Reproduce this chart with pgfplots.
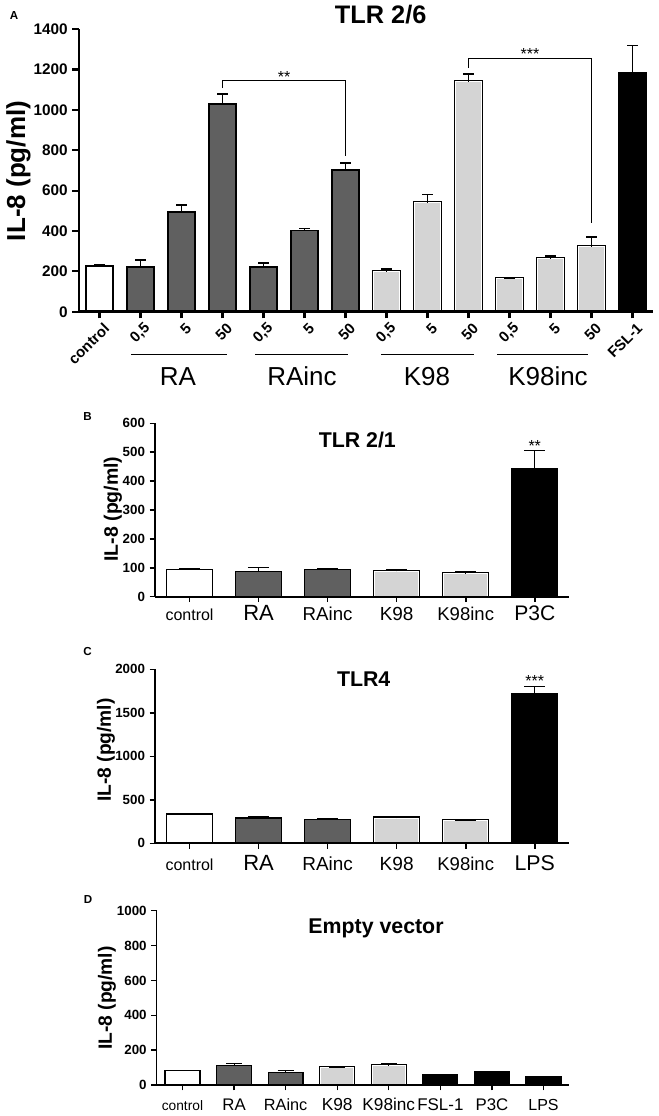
\documentclass[border=0pt]{standalone}
\usepackage{pgfplots}
\pgfplotsset{compat=1.18}
\usepackage{fontspec}
\setmainfont{Liberation Sans}
\definecolor{dk}{RGB}{96,96,96}
\definecolor{lt}{RGB}{212,212,212}
\newcommand{\fs}[1]{\fontsize{#1}{#1}\selectfont}
\pgfplotsset{
  panel/.style={
    scale only axis, anchor=south west, ybar, enlargelimits=false,
    axis on top,
    axis lines*=left, axis line style={-},
    tick align=outside, tick style={black},
    /pgf/number format/assume math mode=true,
    /pgf/number format/set thousands separator={},
  }
}
\begin{document}
\begin{tikzpicture}
\path[use as bounding box] (0,0) rectangle (494.25pt,-837pt);

% ---------------- Panel A ----------------
\begin{axis}[panel,
  at={(59.25pt,-233.8pt)}, width=430.5pt, height=212pt,
  axis line style={line width=2pt}, major tick length=5pt, tick style={line width=1.6pt},
  xmin=-0.5, xmax=13.5, ymin=0, ymax=1400,
  ytick={0,200,...,1400}, xtick={0,...,13},
  xticklabels={control,{0,5},5,50,{0,5},5,50,{0,5},5,50,{0,5},5,50,FSL-1},
  xticklabel style={rotate=45, anchor=east, inner sep=0pt, yshift=-7.75pt, font=\bfseries\fs{11.2}},
  yticklabel style={font=\bfseries\fs{11.5}},
  bar width=0.67,
  every axis plot/.append style={draw=black, line width=1.3pt,
     error bars/y dir=plus, error bars/y explicit,
     error bars/error bar style={line width=1.3pt, black},
     error bars/error mark options={rotate=90, mark size=4.1pt, line width=1.3pt, black}},
]
\addplot[fill=white, bar shift=0pt] coordinates {(0,228) +- (0,3)};
\addplot[fill=dk, bar shift=0pt] coordinates {(1,223) +- (0,33) (2,494) +- (0,35) (3,1028) +- (0,52)
  (4,222) +- (0,18) (5,402) +- (0,10) (6,703) +- (0,35)};
\addplot[fill=black, draw=black, line width=3pt, bar width=0.615, bar shift=0pt, error bars/y dir=none]
  coordinates {(7,197) (8,541) (9,1138) (10,164) (11,263) (12,322)};
\addplot[fill=lt, draw=white, line width=0.8pt, bar width=0.615, bar shift=0pt] coordinates {(7,197) +- (0,16) (8,541) +- (0,39) (9,1138) +- (0,41)
  (10,164) +- (0,1) (11,263) +- (0,12) (12,322) +- (0,47)};
\addplot[fill=black, bar shift=0pt] coordinates {(13,1185) +- (0,134)};
\draw[line width=0.8pt] (axis cs:3,1108) -- (axis cs:3,1144) -- (axis cs:6,1144) -- (axis cs:6,769);
\node[anchor=base, font=\fs{12}] at (axis cs:4.5,1134) {**};
\draw[line width=0.8pt] (axis cs:9,1207) -- (axis cs:9,1253) -- (axis cs:12,1253) -- (axis cs:12,438);
\node[anchor=base, font=\fs{12}] at (axis cs:10.5,1249) {***};
\end{axis}
\node[anchor=base, font=\bfseries\fs{8.7}] at (10.5pt,-15pt) {A};
\node[anchor=base, font=\bfseries\fs{19}] at (285.5pt,-18pt) {TLR 2/6};
\node[rotate=90, font=\bfseries\fs{19.5}] at (13.9pt,-128.25pt) {IL-8 (pg/ml)};
\draw[line width=0.75pt] (98.25pt,-265.5pt) -- (170pt,-265.5pt);
\draw[line width=0.75pt] (191.25pt,-265.5pt) -- (261.2pt,-265.5pt);
\draw[line width=0.75pt] (285.75pt,-265.5pt) -- (355.5pt,-265.5pt);
\draw[line width=0.75pt] (373pt,-265.5pt) -- (441.2pt,-265.5pt);
\node[anchor=base, font=\fs{19.5}] at (133.5pt,-289pt) {RA};
\node[anchor=base, font=\fs{19.5}] at (226.5pt,-289pt) {RAinc};
\node[anchor=base, font=\fs{19.5}] at (320.25pt,-289pt) {K98};
\node[anchor=base, font=\fs{19.5}] at (411pt,-289pt) {K98inc};

% ---------------- Panel B ----------------
\begin{axis}[panel,
  at={(116.25pt,-447.5pt)}, width=310.7pt, height=130pt,
  axis line style={line width=1.5pt}, major tick length=4pt, tick style={line width=1.2pt},
  xmin=-0.5, xmax=5.5, ymin=0, ymax=600,
  ytick={0,100,...,600}, xtick={0,...,5},
  xticklabels={{\fs{12}control},{\fs{16.5}RA},{\fs{14}RAinc},{\fs{14.2}K98},{\fs{13.9}K98inc},{\fs{15.8}P3C}},
  xticklabel style={anchor=base, yshift=-14.2pt},
  yticklabel style={font=\bfseries\fs{10}},
  bar width=0.667,
  every axis plot/.append style={draw=black, line width=1pt,
     error bars/y dir=plus, error bars/y explicit,
     error bars/error bar style={line width=1pt, black},
     error bars/error mark options={rotate=90, mark size=8pt, line width=1pt, black}},
]
\addplot[fill=white, bar shift=0pt] coordinates {(0,95) +- (0,2)};
\addplot[fill=dk, bar shift=0pt] coordinates {(1,87) +- (0,13) (2,93) +- (0,3)};
\addplot[fill=black, draw=black, line width=2.4pt, bar width=0.64, bar shift=0pt, error bars/y dir=none]
  coordinates {(3,88) (4,80)};
\addplot[fill=lt, draw=white, line width=0.7pt, bar width=0.64, bar shift=0pt] coordinates {(3,88) +- (0,7) (4,80) +- (0,5)};
\addplot[fill=black, bar shift=0pt] coordinates {(5,442) +- (0,63)};
\node[anchor=base, font=\fs{12}] at (axis cs:5,503) {**};
\end{axis}
\node[anchor=base, font=\bfseries\fs{8.7}] at (65.6pt,-315pt) {B};
\node[anchor=base, font=\bfseries\fs{16}] at (268pt,-335.5pt) {TLR 2/1};
\node[rotate=90, font=\bfseries\fs{14.6}] at (84.75pt,-381.75pt) {IL-8 (pg/ml)};

% ---------------- Panel C ----------------
\begin{axis}[panel,
  at={(116.25pt,-632.5pt)}, width=310.7pt, height=130.5pt,
  axis line style={line width=1.5pt}, major tick length=4pt, tick style={line width=1.2pt},
  xmin=-0.5, xmax=5.5, ymin=0, ymax=2000,
  ytick={0,500,...,2000}, xtick={0,...,5},
  xticklabels={{\fs{12}control},{\fs{16.5}RA},{\fs{14.2}RAinc},{\fs{14.3}K98},{\fs{13.9}K98inc},{\fs{16}LPS}},
  xticklabel style={anchor=base, yshift=-16.6pt},
  yticklabel style={font=\bfseries\fs{10}},
  bar width=0.667,
  every axis plot/.append style={draw=black, line width=1pt,
     error bars/y dir=plus, error bars/y explicit,
     error bars/error bar style={line width=1pt, black},
     error bars/error mark options={rotate=90, mark size=8pt, line width=1pt, black}},
]
\addplot[fill=white, bar shift=0pt] coordinates {(0,337) +- (0,8)};
\addplot[fill=dk, bar shift=0pt] coordinates {(1,291) +- (0,12) (2,276) +- (0,7)};
\addplot[fill=black, draw=black, line width=2.4pt, bar width=0.64, bar shift=0pt, error bars/y dir=none]
  coordinates {(3,291) (4,260)};
\addplot[fill=lt, draw=white, line width=0.7pt, bar width=0.64, bar shift=0pt] coordinates {(3,291) +- (0,17) (4,260) +- (0,10)};
\addplot[fill=black, bar shift=0pt] coordinates {(5,1715) +- (0,85)};
\node[anchor=base, font=\fs{12}] at (axis cs:5,1800) {***};
\end{axis}
\node[anchor=base, font=\bfseries\fs{8.7}] at (65.6pt,-491.25pt) {C};
\node[anchor=base, font=\bfseries\fs{16}] at (272.75pt,-515pt) {TLR4};
\node[rotate=90, font=\bfseries\fs{14.4}] at (79.5pt,-562.5pt) {IL-8 (pg/ml)};

% ---------------- Panel D ----------------
\begin{axis}[panel,
  at={(117.5pt,-813.75pt)}, width=309.5pt, height=130.7pt,
  axis line style={line width=1.2pt}, major tick length=4pt, tick style={line width=1pt},
  xmin=-0.5, xmax=7.5, ymin=0, ymax=1000,
  ytick={0,200,...,1000}, xtick={0,...,7},
  xticklabels={{\fs{10.3}control},{\fs{12.6}RA},{\fs{12.2}RAinc},{\fs{13}K98},{\fs{12.9}K98inc},{\fs{12.7}FSL-1},{\fs{12.6}P3C},{\fs{12}LPS}},
  xticklabel style={anchor=base, yshift=-14.8pt},
  yticklabel style={font=\bfseries\fs{10}},
  bar width=0.675,
  every axis plot/.append style={draw=black, line width=1pt,
     error bars/y dir=plus, error bars/y explicit,
     error bars/error bar style={line width=0.8pt, black},
     error bars/error mark options={rotate=90, mark size=6pt, line width=0.8pt, black}},
]
\addplot[fill=white, bar shift=0pt] coordinates {(0,82) +- (0,2)};
\addplot[fill=dk, bar shift=0pt] coordinates {(1,111) +- (0,13) (2,73) +- (0,8)};
\addplot[fill=black, draw=black, line width=2.4pt, bar width=0.639, bar shift=0pt, error bars/y dir=none]
  coordinates {(3,98) (4,111)};
\addplot[fill=lt, draw=white, line width=0.7pt, bar width=0.639, bar shift=0pt] coordinates {(3,98) +- (0,3) (4,111) +- (0,13)};
\addplot[fill=black, bar shift=0pt] coordinates {(5,59) +- (0,2) (6,75) +- (0,5) (7,48) +- (0,2)};
\end{axis}
\node[anchor=base, font=\bfseries\fs{8.7}] at (66pt,-677.5pt) {D};
\node[anchor=base, font=\bfseries\fs{16}] at (282pt,-700pt) {Empty vector};
\node[rotate=90, font=\bfseries\fs{14.4}] at (80.25pt,-748.5pt) {IL-8 (pg/ml)};
\end{tikzpicture}
\end{document}
